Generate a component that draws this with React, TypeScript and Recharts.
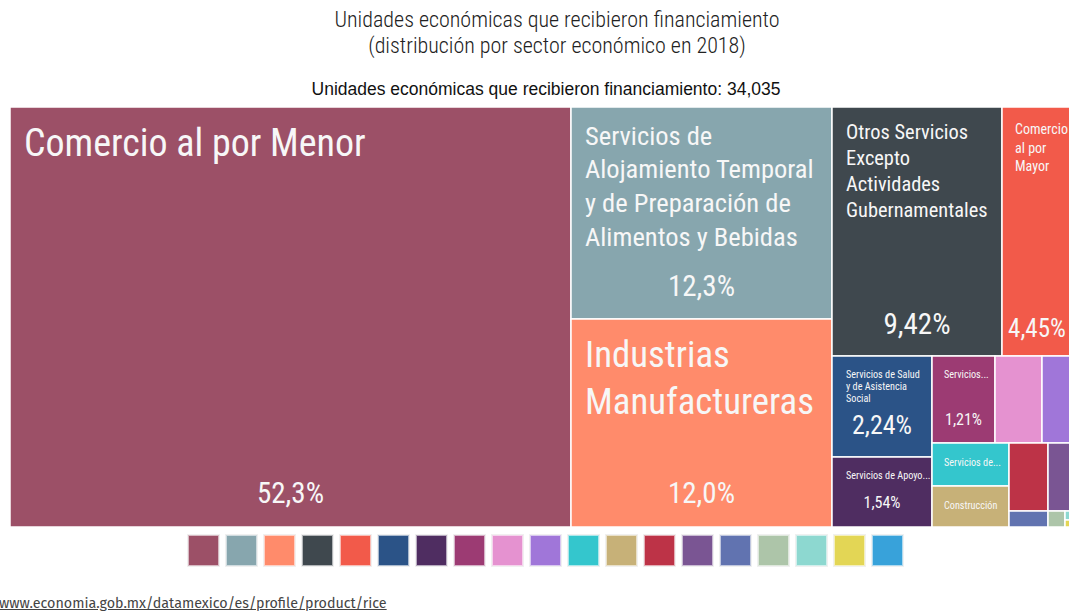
import React from "react";
import { Treemap } from "recharts";

// Sectors, ordered by share (largest first)
const SECTORS = [
  "Comercio al por Menor",
  "Servicios de Alojamiento Temporal y de Preparación de Alimentos y Bebidas",
  "Industrias Manufactureras",
  "Otros Servicios Excepto Actividades Gubernamentales",
  "Comercio al por Mayor",
  "Servicios de Salud y de Asistencia Social",
  "Servicios de Apoyo a los Negocios",
  "Servicios Profesionales",
  "Servicios Educativos",
  "Transportes, Correos y Almacenamiento",
  "Servicios de Esparcimiento",
  "Construcción",
  "Servicios Inmobiliarios",
  "Información en Medios Masivos",
  "Agricultura",
  "Servicios Financieros",
  "Minería",
  "Energía Eléctrica y Agua",
  "Corporativos",
];

// share of economic units (%)
const SHARES = [
  52.3, 12.3, 12.0, 9.42, 4.45, 2.24, 1.54, 1.21, 0.91, 0.81, 0.73, 0.7, 0.59,
  0.52, 0.14, 0.06, 0.035, 0.03, 0.015,
];

const COLORS = [
  "#9c5067", "#87a6ae", "#ff8b6b", "#3f484e", "#f25a4a", "#2b5387", "#4f2d61",
  "#9c3b73", "#e592d0", "#a076d9", "#34c6cd", "#c7b178", "#bd3347", "#7a5593",
  "#6173b0", "#adc5a9", "#8dd8d0", "#e3d655", "#38a2da",
];

// label lines as they appear inside each cell (empty = no label)
const LABEL_LINES: string[][] = [
  ["Comercio al por Menor"],
  ["Servicios de", "Alojamiento Temporal", "y de Preparación de", "Alimentos y Bebidas"],
  ["Industrias", "Manufactureras"],
  ["Otros Servicios", "Excepto", "Actividades", "Gubernamentales"],
  ["Comercio", "al por", "Mayor"],
  ["Servicios de Salud", "y de Asistencia", "Social"],
  ["Servicios de Apoyo..."],
  ["Servicios..."],
  [], [],
  ["Servicios de..."],
  ["Construcción"],
];

const TITLE = ["Unidades económicas que recibieron financiamiento", "(distribución por sector económico en 2018)"];
const SUBTITLE = "Unidades económicas que recibieron financiamiento: 34,035";
const SOURCE = "www.economia.gob.mx/datamexico/es/profile/product/rice";

// text sizing per cell: [pad x, first line offset, line height, font size, pct font size, pct offset from bottom]
const LABEL_STYLE: (number[] | null)[] = [
  [14, 36, 47, 38, 29, 34],
  [14, 28, 33.7, 26.5, 29, 33],
  [14, 35, 47, 36.8, 29, 34],
  [14, 25, 26, 20.4, 29, 32],
  [13, 22, 18.5, 14, 25, 28],
  [14, 18, 12, 10.2, 26, 32],
  [14, 18, 12, 10.2, 16, 25],
  [12, 18, 12, 10.2, 16, 24],
  null, null,
  [12, 19, 12, 10.2, 0, 0],
  [12, 19, 12, 10.2, 0, 0],
];

const FONT = "'Roboto Condensed', 'Fira Sans Condensed', Roboto, sans-serif";
// the treemap runs past the right edge of the page; keep labels inside it
const VISIBLE_RIGHT = 1057;

const data = SECTORS.map((name, i) => ({ name, value: SHARES[i] }));

function formatPct(v: number) {
  return v.toPrecision(3).replace(".", ",") + "%";
}

function Cell(props: any) {
  const { x, y, width, height, depth, index } = props;
  if (depth !== 1) return null;
  const st = LABEL_STYLE[index];
  const lines = LABEL_LINES[index] || [];
  const pctX = Math.min(x + width / 2, VISIBLE_RIGHT - 30);
  return (
    <g>
      <rect x={x} y={y} width={width} height={height} fill={COLORS[index]} stroke="#fff" strokeWidth={1.5} />
      {st &&
        lines.map((line, k) => (
          <text
            key={k}
            x={x + st[0]}
            y={y + st[1] + k * st[2]}
            dominantBaseline="central"
            fontSize={st[3]}
            fill="#f7f7f7"
            fontFamily={FONT}
          >
            {line}
          </text>
        ))}
      {st && st[4] > 0 && (
        <text
          x={pctX}
          y={y + height - st[5]}
          textAnchor="middle"
          dominantBaseline="central"
          fontSize={st[4]}
          fill="#f7f7f7"
          fontFamily={FONT}
        >
          {formatPct(SHARES[index])}
        </text>
      )}
    </g>
  );
}

export default function App() {
  return (
    <div
      style={{
        position: "fixed",
        left: 0,
        top: 0,
        width: 1069,
        height: 612,
        overflow: "hidden",
        background: "#fff",
      }}
    >
      <div
        style={{
          position: "absolute",
          left: 0,
          width: 1114,
          top: 7,
          textAlign: "center",
          fontFamily: FONT,
          fontWeight: 300,
          fontSize: 22,
          lineHeight: "26px",
          color: "#222",
        }}
      >
        {TITLE.map((t) => (
          <div key={t}>{t}</div>
        ))}
      </div>
      <div
        style={{
          position: "absolute",
          left: 0,
          width: 1092,
          top: 79,
          textAlign: "center",
          fontFamily: "'Liberation Sans', Arial, sans-serif",
          fontSize: 17.5,
          color: "#111",
        }}
      >
        {SUBTITLE}
      </div>
      <div style={{ position: "absolute", left: 10, top: 107 }}>
        <Treemap
          width={1073}
          height={420}
          data={data}
          dataKey="value"
          nameKey="name"
          isAnimationActive={false}
          content={<Cell />}
        />
      </div>
      <div
        style={{
          position: "absolute",
          left: 188,
          top: 535,
          display: "flex",
          gap: 7,
        }}
      >
        {COLORS.map((c) => (
          <div
            key={c}
            style={{
              width: 31,
              height: 31,
              background: c,
              boxSizing: "border-box",
              border: "1px solid rgba(255,255,255,0.6)",
              boxShadow: "0 0 0 1px rgba(0,0,0,0.06)",
            }}
          />
        ))}
      </div>
      <div
        style={{
          position: "absolute",
          left: -1,
          top: 595,
          fontFamily: "'Fira Sans', Roboto, sans-serif",
          fontSize: 14.3,
          color: "#444",
          textDecoration: "underline",
        }}
      >
        {SOURCE}
      </div>
    </div>
  );
}
